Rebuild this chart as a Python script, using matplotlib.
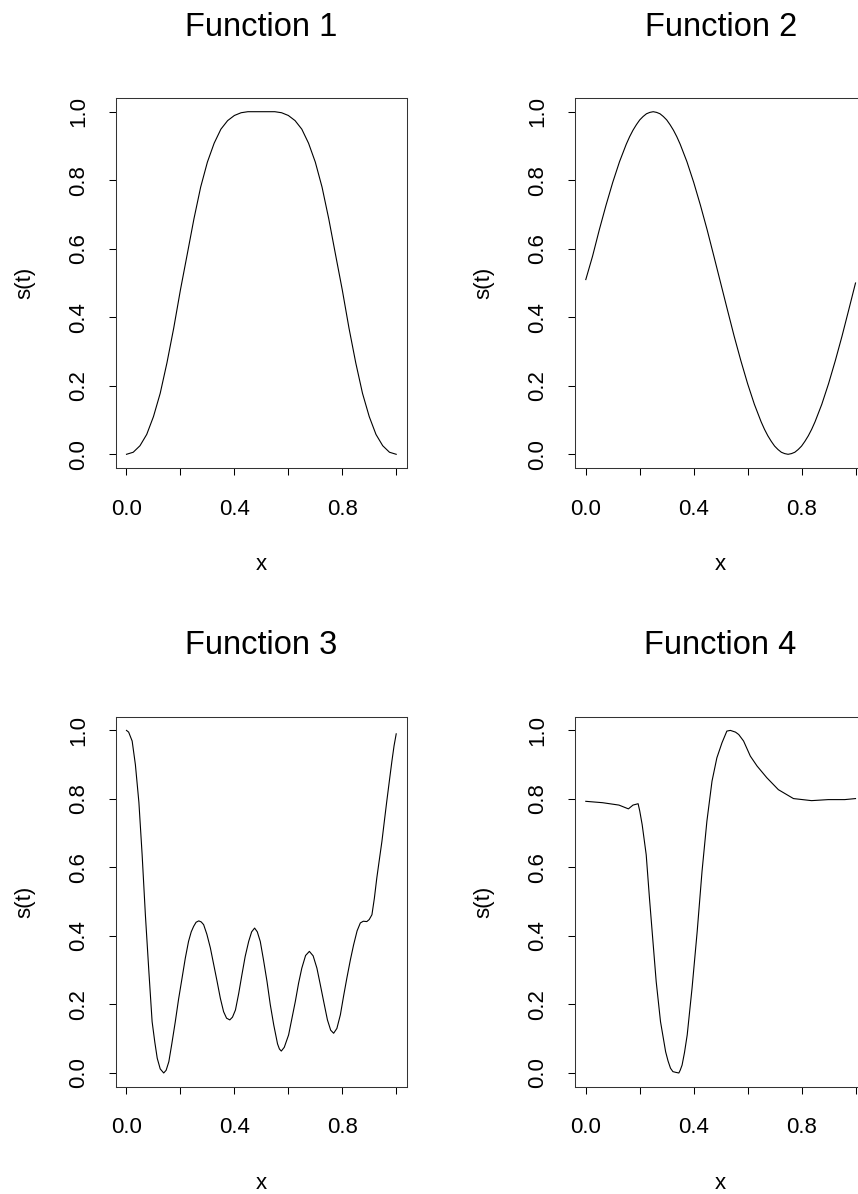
import numpy as np
import matplotlib
matplotlib.use("Agg")
import matplotlib.pyplot as plt

plt.rcParams['font.family'] = ['Liberation Sans', 'DejaVu Sans']

# values
titles = ["Function 1", "Function 2", "Function 3", "Function 4"]

x1 = [0.0, 0.025, 0.05, 0.075, 0.1, 0.125, 0.15, 0.175, 0.2, 0.225, 0.25, 0.275,
      0.3, 0.325, 0.35, 0.375, 0.4, 0.425, 0.45, 0.475, 0.5, 0.525, 0.55, 0.575,
      0.6, 0.625, 0.65, 0.675, 0.7, 0.725, 0.75, 0.775, 0.8, 0.825, 0.85, 0.875,
      0.9, 0.925, 0.95, 0.975, 1.0]
y1 = [0.0, 0.006, 0.025, 0.058, 0.11, 0.178, 0.267, 0.368, 0.48, 0.583, 0.687, 0.78,
      0.853, 0.908, 0.949, 0.974, 0.989, 0.997, 1.0, 1.0, 1.0, 1.0, 1.0, 0.997,
      0.989, 0.974, 0.949, 0.908, 0.853, 0.78, 0.687, 0.583, 0.48, 0.368, 0.267, 0.178,
      0.11, 0.058, 0.025, 0.006, 0.0]

x2 = [0.0, 0.025, 0.05, 0.075, 0.1, 0.125, 0.15, 0.1625, 0.175, 0.1875, 0.2, 0.2125,
      0.225, 0.2375, 0.25, 0.2625, 0.275, 0.2875, 0.3, 0.3125, 0.325, 0.3375, 0.35,
      0.375, 0.4, 0.425, 0.45, 0.475, 0.5, 0.525, 0.55, 0.575, 0.6, 0.625, 0.65,
      0.6625, 0.675, 0.6875, 0.7, 0.7125, 0.725, 0.7375, 0.75, 0.7625, 0.775, 0.7875,
      0.8, 0.8125, 0.825, 0.8375, 0.85, 0.875, 0.9, 0.925, 0.95, 0.975, 1.0]
y2 = [0.51, 0.578, 0.655, 0.727, 0.794, 0.854, 0.905, 0.927, 0.946, 0.962, 0.976, 0.986,
      0.994, 0.998, 1.0, 0.998, 0.994, 0.986, 0.976, 0.962, 0.946, 0.927, 0.905,
      0.854, 0.794, 0.727, 0.655, 0.578, 0.5, 0.422, 0.345, 0.273, 0.206, 0.146, 0.095,
      0.073, 0.054, 0.038, 0.024, 0.014, 0.006, 0.002, 0.0, 0.002, 0.006, 0.014,
      0.024, 0.038, 0.054, 0.073, 0.095, 0.146, 0.206, 0.273, 0.345, 0.422, 0.5]

x3 = [0.0, 0.008, 0.021, 0.033, 0.046, 0.058, 0.07, 0.083, 0.095, 0.105, 0.114, 0.125,
      0.138, 0.147, 0.157, 0.168, 0.181, 0.193, 0.206, 0.218, 0.23, 0.24, 0.249, 0.258,
      0.268, 0.277, 0.286, 0.298, 0.311, 0.323, 0.336, 0.348, 0.36, 0.371, 0.383,
      0.393, 0.404, 0.416, 0.428, 0.44, 0.453, 0.464, 0.475, 0.485, 0.496, 0.508,
      0.521, 0.533, 0.546, 0.56, 0.567, 0.574, 0.585, 0.601, 0.613, 0.626, 0.638,
      0.65, 0.664, 0.678, 0.692, 0.706, 0.718, 0.731, 0.745, 0.757, 0.768, 0.78,
      0.793, 0.805, 0.817, 0.83, 0.842, 0.855, 0.867, 0.878, 0.891, 0.9, 0.91, 0.919,
      0.928, 0.937, 0.947, 0.956, 0.965, 0.975, 0.984, 0.992, 1.0]
y3 = [1.0, 0.995, 0.969, 0.90, 0.79, 0.637, 0.462, 0.296, 0.15, 0.09, 0.043, 0.012,
      0.0, 0.008, 0.033, 0.085, 0.15, 0.215, 0.277, 0.335, 0.384, 0.412, 0.428, 0.44,
      0.444, 0.441, 0.433, 0.405, 0.365, 0.318, 0.267, 0.218, 0.179, 0.16, 0.155,
      0.163, 0.184, 0.232, 0.287, 0.34, 0.384, 0.412, 0.423, 0.412, 0.384, 0.33,
      0.267, 0.2, 0.14, 0.085, 0.07, 0.064, 0.075, 0.111, 0.158, 0.209, 0.262,
      0.306, 0.343, 0.355, 0.342, 0.306, 0.26, 0.209, 0.155, 0.125, 0.116, 0.13,
      0.17, 0.225, 0.277, 0.33, 0.374, 0.415, 0.438, 0.443, 0.442, 0.448, 0.462, 0.51,
      0.569, 0.62, 0.676, 0.735, 0.793, 0.855, 0.91, 0.955, 0.99]

x4 = [0.0, 0.062, 0.123, 0.158, 0.175, 0.194, 0.2, 0.209, 0.215, 0.224, 0.236, 0.249,
      0.261, 0.277, 0.296, 0.305, 0.314, 0.323, 0.333, 0.345, 0.35, 0.357, 0.366, 0.376,
      0.394, 0.413, 0.431, 0.449, 0.468, 0.486, 0.505, 0.523, 0.536, 0.555, 0.567,
      0.585, 0.61, 0.635, 0.671, 0.714, 0.77, 0.837, 0.899, 0.96, 1.0]
y4 = [0.793, 0.789, 0.782, 0.771, 0.782, 0.786, 0.765, 0.725, 0.69, 0.637, 0.511, 0.384,
      0.267, 0.15, 0.062, 0.035, 0.014, 0.004, 0.002, 0.0, 0.008, 0.023, 0.06, 0.111,
      0.248, 0.413, 0.589, 0.735, 0.852, 0.92, 0.964, 0.998, 1.0, 0.995, 0.988,
      0.969, 0.925, 0.896, 0.862, 0.827, 0.801, 0.795, 0.798, 0.798, 0.801]

xs = [x1, x2, x3, x4]
ys = [y1, y2, y3, y4]

xticks = [0.0, 0.2, 0.4, 0.6, 0.8, 1.0]
xticklabels = ["0.0", "", "0.4", "", "0.8", ""]
yticks = [0.0, 0.2, 0.4, 0.6, 0.8, 1.0]
yticklabels = ["0.0", "0.2", "0.4", "0.6", "0.8", "1.0"]

W, H = 858, 1194
fig = plt.figure(figsize=(W / 100, H / 100), dpi=100)

# axes boxes in pixels: left, top (right column runs past the figure edge)
lefts = [115.7, 575, 115.7, 575]
tops = [98, 98, 716.7, 716.7]
bw, bh = 291.3, 370

for i in range(4):
    ax = fig.add_axes([lefts[i] / W, 1 - (tops[i] + bh) / H, bw / W, bh / H])
    ax.plot(xs[i], ys[i], color="black", lw=0.8, solid_joinstyle="round")
    ax.set_xlim(-0.04, 1.04)
    ax.set_ylim(-0.04, 1.04)
    ax.set_xticks(xticks)
    ax.set_xticklabels(xticklabels)
    ax.set_yticks(yticks)
    ax.set_yticklabels(yticklabels, rotation=90, va="center")
    ax.tick_params(direction="out", length=5, width=0.75, labelsize=16, color="black")
    ax.tick_params(axis="x", pad=17)
    ax.tick_params(axis="y", pad=14)
    for s in ax.spines.values():
        s.set_linewidth(0.75)
        s.set_color("#333333")
    ax.set_title(titles[i], fontsize=23.5, pad=45)
    ax.set_xlabel("x", fontsize=16)
    ax.set_ylabel("s(t)", fontsize=16)
    ax.xaxis.set_label_coords(0.5, -(565 - 468) / bh)
    ax.xaxis.label.set_va("center")
    ax.yaxis.set_label_coords(-(115.7 - 25) / bw, 0.5)
    ax.yaxis.label.set_va("center")

fig.savefig("out.png", dpi=100)
